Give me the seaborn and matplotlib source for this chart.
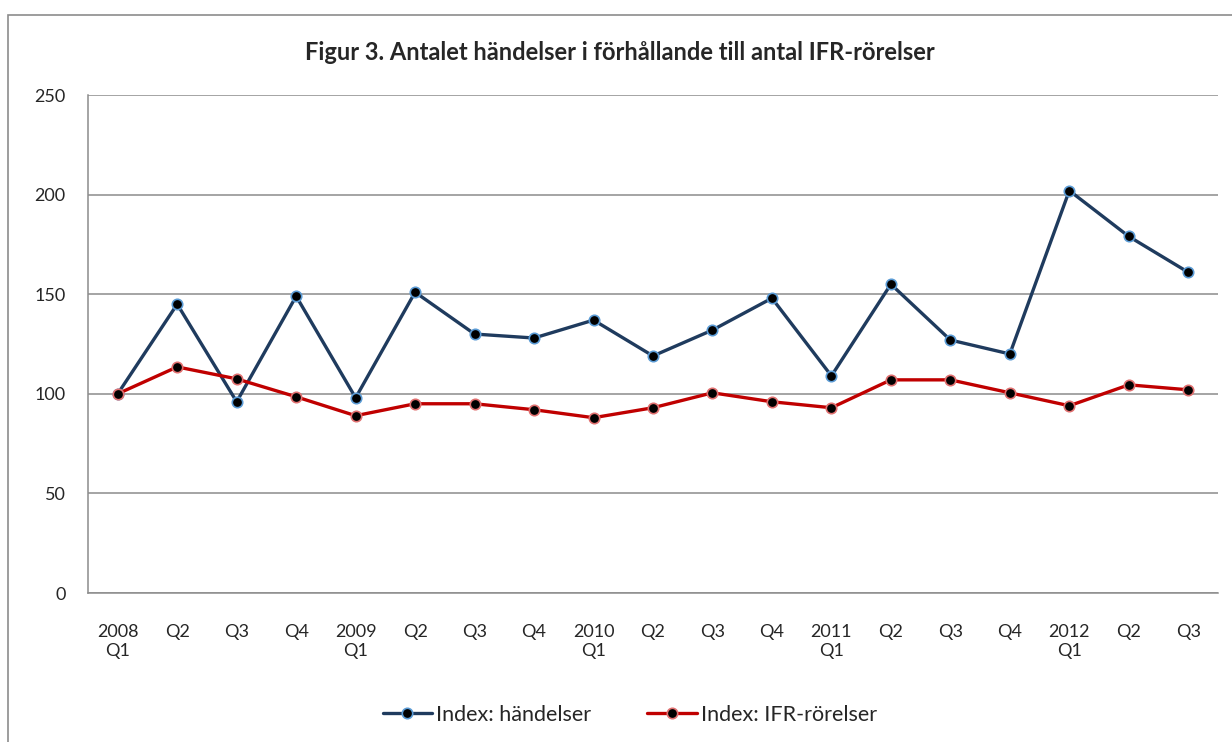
import numpy as np
import pandas as pd
import matplotlib
matplotlib.use("Agg")
import matplotlib.pyplot as plt
import seaborn as sns
from matplotlib.patches import Rectangle

# data
quarters = ['2008\nQ1', 'Q2', 'Q3', 'Q4', '2009\nQ1', 'Q2', 'Q3', 'Q4',
            '2010\nQ1', 'Q2', 'Q3', 'Q4', '2011\nQ1', 'Q2', 'Q3', 'Q4',
            '2012\nQ1', 'Q2', 'Q3']
handelser = [100, 145, 96, 149, 98, 151, 130, 128, 137, 119, 132, 148,
             109, 155, 127, 120, 202, 179, 161]
ifr = [100, 113.5, 107.5, 98.5, 89, 95, 95, 92, 88, 93, 100.5, 96,
       93, 107, 107, 100.5, 94, 104.5, 102]
series_names = ['Index: händelser', 'Index: IFR-rörelser']
yticks = [0, 50, 100, 150, 200, 250]

sns.set_style('white')
plt.rcParams['font.family'] = ['Lato', 'DejaVu Sans']

df = pd.DataFrame({
    'pos': list(range(len(quarters))) * 2,
    'value': handelser + ifr,
    'serie': [series_names[0]] * len(quarters) + [series_names[1]] * len(quarters),
})

fig = plt.figure(figsize=(12.32, 7.42), dpi=100)
ax = fig.add_axes([88 / 1232, 1 - 593 / 742, 1130 / 1232, 498 / 742])

line_cols = {series_names[0]: '#1F3B5E', series_names[1]: '#C00000'}
edge_cols = {series_names[0]: '#5B9BD5', series_names[1]: '#E07070'}

for name in series_names:
    sub = df[df['serie'] == name]
    sns.lineplot(data=sub, x='pos', y='value', ax=ax, color=line_cols[name],
                 linewidth=2.4, marker='o', markersize=7.5,
                 markerfacecolor='black', markeredgecolor=edge_cols[name],
                 markeredgewidth=1.2, label=name)

ax.set_xlim(-0.5, len(quarters) - 0.5)
ax.set_ylim(0, 250)
ax.set_yticks(yticks)
ax.yaxis.grid(True, color='#8c8c8c', linewidth=1.1)
ax.set_axisbelow(True)

ax.set_xticks(range(len(quarters)))
ax.set_xticklabels(quarters, fontsize=13, linespacing=1.3)
ax.set_xticks(np.arange(-0.5, len(quarters), 1), minor=True)
ax.tick_params(axis='x', which='major', length=0, pad=22)
ax.tick_params(axis='x', which='minor', length=6, color='#8c8c8c', direction='out')
ax.tick_params(axis='y', length=6, color='#8c8c8c', direction='out', labelsize=13, pad=10)
for lab in ax.get_xticklabels():
    lab.set_verticalalignment('top')

for s in ['top', 'right']:
    ax.spines[s].set_visible(False)
for s in ['left', 'bottom']:
    ax.spines[s].set_color('#8c8c8c')
    ax.spines[s].set_linewidth(1.1)

ax.set_xlabel('')
ax.set_ylabel('')

fig.text(620 / 1232, 1 - 52 / 742, 'Figur 3. Antalet händelser i förhållande till antal IFR-rörelser',
         ha='center', va='center', fontsize=17, fontweight='bold')

ax.legend(loc='center', bbox_to_anchor=(630 / 1232 * 1232 / 1130 - 88 / 1130, -0.245), ncol=2,
          frameon=False, fontsize=15.5, handlelength=2.3, columnspacing=2.6, handletextpad=0.2)

fig.patches.append(Rectangle((8 / 1232, -0.1), 1.2, (742 - 15) / 742 + 0.1,
                             transform=fig.transFigure, fill=False,
                             edgecolor='#8c8c8c', linewidth=1.2))

fig.savefig('out.png', dpi=100)
